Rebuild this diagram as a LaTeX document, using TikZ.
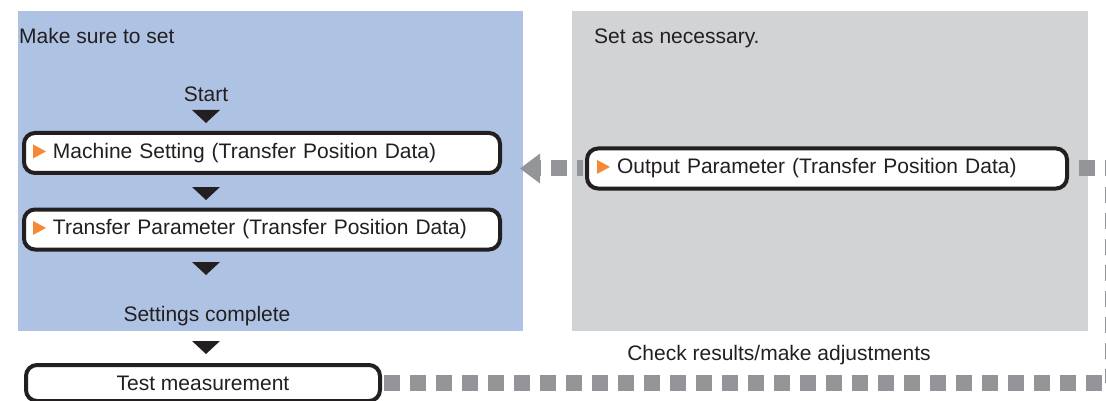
\documentclass[tikz,border=0pt]{standalone}
\usepackage{fontspec}
\setmainfont{Liberation Sans}
\usepackage{xcolor}
\usetikzlibrary{arrows.meta, positioning}

\definecolor{panelblue}{RGB}{174,195,228}
\definecolor{panelgray}{RGB}{209,211,212}
\definecolor{linkgray}{RGB}{147,149,152}
\definecolor{markorange}{RGB}{245,137,54}
\definecolor{inkblack}{RGB}{35,31,32}

\newcommand{\ormark}{\tikz[baseline=0pt, sharp corners]\fill[markorange] (0pt,0pt) -- (0pt,14pt) -- (13pt,7pt) -- cycle;}

\begin{document}
\begin{tikzpicture}[
    x=1pt, y=-1pt,
    font=\fontsize{21}{25}\selectfont,
    text=inkblack,
    paneltext/.style={inner sep=0pt},
    stepbox/.style={draw=inkblack, line width=4pt, rounded corners=11pt, fill=white,
        minimum height=40pt, inner ysep=0pt},
    link/.style={draw=linkgray, line width=16pt, dash pattern=on 16pt off 10pt}
]
    \useasboundingbox (0,0) rectangle (1106,401);

    % Panels
    \fill[panelblue] (18,11) rectangle (523,331);
    \fill[panelgray] (572,11) rectangle (1088,331);
    \node[paneltext, anchor=base west] (must) at (19,44) {Make sure to set};
    \node[paneltext, anchor=base west] (asneeded) at (594,44) {Set as necessary.};

    % Steps
    \node[paneltext, anchor=base] (start) at (206,102) {Start};
    \node[stepbox, text width=458pt, inner xsep=9pt, align=left] (machine) at (262,153)
        {\ormark\ Machine Setting (Transfer Position Data)};
    \node[stepbox, text width=458pt, inner xsep=9pt, align=left] (transfer) at (262,229.5)
        {\ormark\ Transfer Parameter (Transfer Position Data)};
    \node[paneltext, anchor=base] (done) at (207,321) {Settings complete};
    \node[stepbox, minimum width=354pt, minimum height=36pt] (test) at (203,383) {Test measurement};
    \node[stepbox, text width=460pt, inner xsep=10pt, align=left] (output) at (827,168.5)
        {\ormark\ Output Parameter (Transfer Position Data)};
    \node[paneltext, anchor=base] (check) at (779,360) {Check results/make adjustments};

    % Flow marks
    \foreach \y in {116.5, 193.5, 268.5, 347.5}
        \fill[inkblack] (206,\y) +(-14,-6.5) -- +(14,-6.5) -- +(0,6.5) -- cycle;

    % Links
    \coordinate (blueedge) at (520,168.5);
    \draw[link, dash phase=10pt, shorten <=2pt,
        -{Triangle[length=20pt, width=30pt, line width=0pt]}] (output.west) -- (blueedge);
    \draw[link, dash phase=16pt, shorten >=2pt] (output.east) -- ++(44,0) |- (test.east);
\end{tikzpicture}
\end{document}
